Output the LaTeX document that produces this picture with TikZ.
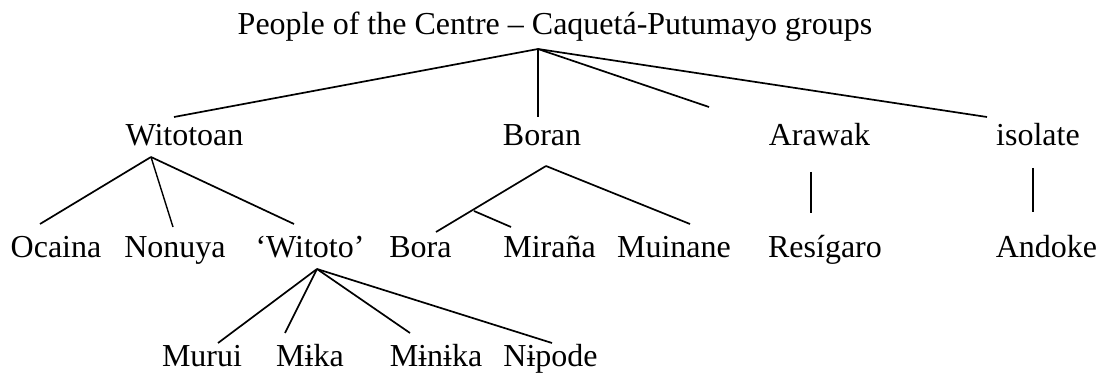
\documentclass[tikz,border=0pt]{standalone}
\usepackage{fontspec}
\setmainfont{Liberation Serif}
\begin{document}
\begin{tikzpicture}[x=1pt,y=-1pt,
  lbl/.style={anchor=base,inner sep=0pt,font=\fontsize{32}{38}\selectfont},
  edge/.style={line width=1.7pt,line cap=butt}]
\useasboundingbox (0,0) rectangle (1102,374);
% labels
\node[lbl] (title) at (555,35) {People of the Centre – Caquetá-Putumayo groups};
\node[lbl] (witotoan) at (184.5,146) {Witotoan};
\node[lbl] (boran) at (542,146) {Boran};
\node[lbl] (arawak) at (819.5,146) {Arawak};
\node[lbl] (isolate) at (1038,146) {isolate};
\node[lbl] (ocaina) at (56,257) {Ocaina};
\node[lbl] (nonuya) at (175,257) {Nonuya};
\node[lbl] (witoto) at (310,257) {‘Witoto’};
\node[lbl] (bora) at (420.5,257) {Bora};
\node[lbl] (mirana) at (549.5,257) {Miraña};
\node[lbl] (muinane) at (674,257) {Muinane};
\node[lbl] (resigaro) at (825,257) {Resígaro};
\node[lbl] (andoke) at (1046.5,257) {Andoke};
\node[lbl] (murui) at (202,366) {Murui};
\node[lbl] (mika) at (310,366) {Mɨka};
\node[lbl] (minika) at (436,366) {Mɨnɨka};
\node[lbl] (nipode) at (550.5,366) {Nɨpode};
% branch points
\coordinate (root) at (538,49);
\coordinate (rW) at (174,117);
\coordinate (rB) at (538,117);
\coordinate (rA) at (709,107);
\coordinate (rI) at (987,117);
\coordinate (wA) at (151,157);
\coordinate (wO) at (40,224);
\coordinate (wN) at (173,227);
\coordinate (wW) at (294,224);
\coordinate (bA) at (546,166);
\coordinate (bB) at (436,232);
\coordinate (bM) at (690,224);
\coordinate (bX) at (474,211);
\coordinate (bR) at (511,227);
\coordinate (aT) at (811,172);
\coordinate (aB) at (811,213);
\coordinate (iT) at (1033,168);
\coordinate (iB) at (1033,212);
\coordinate (tA) at (317,269);
\coordinate (tM) at (218,343);
\coordinate (tK) at (285,333);
\coordinate (tN) at (410,333);
\coordinate (tP) at (552,343);
% edges
\draw[edge] (root) -- (rW);
\draw[edge,line width=1.4pt] (root) -- (rB);
\draw[edge] (root) -- (rA);
\draw[edge] (root) -- (rI);
\draw[edge] (wA) -- (wO);
\draw[edge,line width=1.4pt] (wA) -- (wN);
\draw[edge] (wA) -- (wW);
\draw[edge] (bA) -- (bB);
\draw[edge] (bA) -- (bM);
\draw[edge] (bX) -- (bR);
\draw[edge,line width=1.4pt] (aT) -- (aB);
\draw[edge,line width=1.4pt] (iT) -- (iB);
\draw[edge] (tA) -- (tM);
\draw[edge] (tA) -- (tK);
\draw[edge] (tA) -- (tN);
\draw[edge] (tA) -- (tP);
\end{tikzpicture}
\end{document}
